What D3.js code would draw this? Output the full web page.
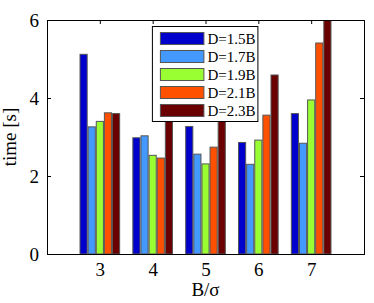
<!DOCTYPE html>
<html>
<head>
<meta charset="utf-8">
<script src="https://cdn.jsdelivr.net/npm/d3@7"></script>
<style>
  body { margin: 0; background: #fff; }
  text { font-family: "Liberation Serif", "DejaVu Serif", serif; }
</style>
</head>
<body>
<script>
const categories = [3, 4, 5, 6, 7];
const seriesNames = ["D=1.5B", "D=1.7B", "D=1.9B", "D=2.1B", "D=2.3B"];
const seriesColors = ["#0000cc", "#4499ff", "#99ff33", "#ff5000", "#6b0000"];
// values[series][category]
const seriesValues = [
    [5.12, 2.98, 3.27, 2.86, 3.60],
    [3.26, 3.03, 2.56, 2.30, 2.84],
    [3.40, 2.53, 2.31, 2.92, 3.95],
    [3.62, 2.46, 2.74, 3.56, 5.41],
    [3.60, 3.55, 3.60, 4.59, 6.10]
];
const yTicks = [0, 2, 4, 6];

function main(){
    const canvasWidth = 374;
    const canvasHeight = 303;
    const margin = {left: 47, right: 10, top: 20, bottom: 49};

    const svg = d3.select("body").append("svg")
        .attr("width", canvasWidth)
        .attr("height", canvasHeight);

    const width = canvasWidth - margin.left - margin.right;
    const height = canvasHeight - margin.top - margin.bottom;

    const g = svg.append("g")
        .attr("transform", "translate(" + margin.left + "," + margin.top + ")");

    const xScale = d3.scaleLinear().domain([2, 8]).range([0, width]);
    const yScale = d3.scaleLinear().domain([0, 6]).range([height, 0]);
    const step = xScale(3) - xScale(2);
    const inner = d3.scaleBand()
        .domain(d3.range(seriesNames.length))
        .range([-step * 0.375, step * 0.375])
        .paddingInner(0.12);

    g.append("clipPath").attr("id", "clip")
        .append("rect").attr("width", width).attr("height", height);

    const rows = [];
    seriesValues.forEach((vals, s) => {
        vals.forEach((v, i) => rows.push({s: s, x: categories[i], v: v}));
    });

    g.append("g").attr("clip-path", "url(#clip)")
        .selectAll("rect")
        .data(rows)
        .enter()
        .append("rect")
        .attr("x", d => xScale(d.x) + inner(d.s))
        .attr("y", d => yScale(d.v))
        .attr("width", inner.bandwidth())
        .attr("height", d => yScale(0) - yScale(d.v))
        .attr("fill", d => seriesColors[d.s])
        .attr("stroke", "#555")
        .attr("stroke-width", 1);

    // box frame with inward ticks
    const tickLen = 4;
    const xAxis = g.append("g")
        .attr("transform", "translate(0," + height + ")")
        .call(d3.axisBottom(xScale).tickValues(categories).tickSize(-tickLen).tickPadding(9).tickFormat(d3.format("d")));
    const xTop = g.append("g")
        .call(d3.axisTop(xScale).tickValues(categories).tickSize(-tickLen).tickFormat(""));
    const yAxis = g.append("g")
        .call(d3.axisLeft(yScale).tickValues(yTicks).tickSize(-tickLen).tickPadding(8).tickFormat(d3.format("d")));
    const yRight = g.append("g")
        .attr("transform", "translate(" + width + ",0)")
        .call(d3.axisRight(yScale).tickValues(yTicks).tickSize(-tickLen).tickFormat(""));

    [xAxis, xTop, yAxis, yRight].forEach(a => {
        a.select(".domain").attr("stroke", "#000");
        a.selectAll(".tick line").attr("stroke", "#000");
        a.selectAll("text")
            .attr("font-family", "Liberation Serif, serif")
            .attr("font-size", "19px")
            .attr("fill", "#000");
    });
    // bottom ticks are hidden behind the bars in the original
    xAxis.selectAll(".tick line").remove();

    g.append("text")
        .attr("x", width / 2)
        .attr("y", height + 42)
        .attr("text-anchor", "middle")
        .attr("font-size", "19px")
        .text("B/\u03c3");

    g.append("text")
        .attr("transform", "translate(" + (-31) + "," + (height / 2) + ") rotate(-90)")
        .attr("text-anchor", "middle")
        .attr("font-size", "19px")
        .text("time [s]");

    // legend
    const legend = g.append("g")
        .attr("transform", "translate(" + xScale(3.995) + ",6.5)");
    legend.append("rect")
        .attr("width", 105.5)
        .attr("height", 95)
        .attr("fill", "#fff")
        .attr("stroke", "#000");
    const item = legend.selectAll("g.item")
        .data(seriesNames)
        .enter()
        .append("g")
        .attr("class", "item")
        .attr("transform", (d, i) => "translate(8," + (6 + i * 18) + ")");
    item.append("rect")
        .attr("width", 43.5)
        .attr("height", 12)
        .attr("fill", (d, i) => seriesColors[i])
        .attr("stroke", "#555");
    item.append("text")
        .attr("x", 47)
        .attr("y", 11.5)
        .attr("font-size", "15px")
        .text(d => d);
}
main();
</script>
</body>
</html>
